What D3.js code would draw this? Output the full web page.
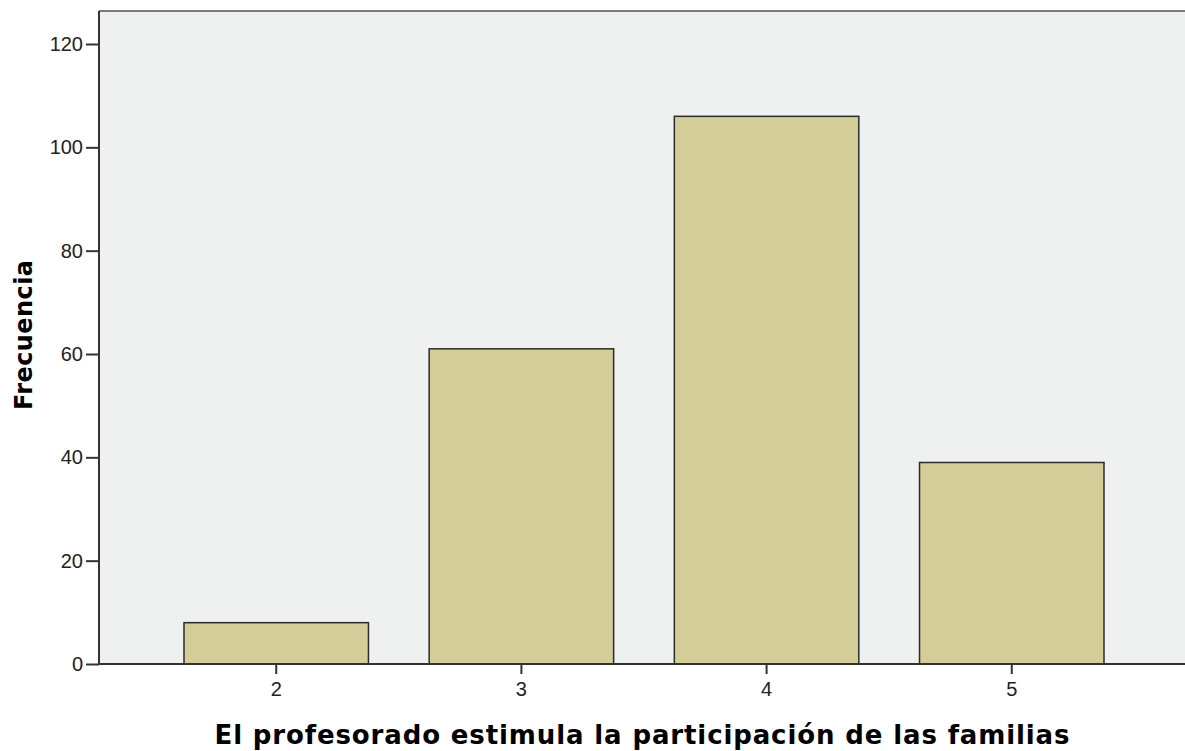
<!DOCTYPE html>
<html><head><meta charset="utf-8">
<script src="https://cdnjs.cloudflare.com/ajax/libs/d3/7.8.5/d3.min.js"></script>
<style>html,body{margin:0;padding:0;background:#fff;}</style>
</head><body>
<script>
const categories = ["2", "3", "4", "5"];
const values = [8, 61, 106, 39];
const yTicks = [0, 20, 40, 60, 80, 100, 120];
const xTitle = "El profesorado estimula la participación de las familias";
const yTitle = "Frecuencia";

const W = 1185, H = 751;
const m = {left: 99, top: 11, right: 0, bottom: 87};
const svg = d3.select("body").append("svg").attr("width", W).attr("height", H);

const x = d3.scaleBand().domain(categories).range([m.left, W - m.right])
  .paddingInner(0.2476).paddingOuter(0.3385).align(0.512);
const y = d3.scaleLinear().domain([0, 120]).range([664, 44]);

svg.append("rect").attr("x", m.left).attr("y", m.top).attr("width", W - m.left).attr("height", 664 - m.top)
  .attr("fill", "#eff0f0");
svg.append("line").attr("x1", m.left).attr("x2", W).attr("y1", m.top).attr("y2", m.top)
  .attr("stroke", "#7a7a7a").attr("stroke-width", 2);

svg.selectAll("rect.bar").data(values).enter().append("rect").attr("class", "bar")
  .attr("x", (d, i) => x(categories[i]))
  .attr("width", x.bandwidth())
  .attr("y", d => y(d))
  .attr("height", d => y(0) - y(d))
  .attr("fill", "#d3ce97").attr("stroke", "#2b2b2b").attr("stroke-width", 1.5);

const yAxis = svg.append("g").attr("transform", `translate(${m.left},0)`)
  .call(d3.axisLeft(y).tickValues(yTicks).tickSize(13).tickPadding(3).tickSizeOuter(0));
const xAxis = svg.append("g").attr("transform", `translate(0,664)`)
  .call(d3.axisBottom(x).tickSize(10).tickPadding(8).tickSizeOuter(0));

[yAxis, xAxis].forEach(g => {
  g.select(".domain").attr("stroke", "#333").attr("stroke-width", 2);
  g.selectAll(".tick line").attr("stroke", "#333").attr("stroke-width", 2);
  g.selectAll(".tick text").attr("fill", "#222").style("font-family", "'Liberation Sans', Arial, sans-serif").style("font-size", "20px");
});
yAxis.select(".domain").attr("d", `M0,${m.top}V664`);
xAxis.select(".domain").attr("d", `M${m.left},0H${W}`);

svg.append("text").attr("x", 642).attr("y", 744).attr("text-anchor", "middle")
  .attr("textLength", 855).attr("lengthAdjust", "spacing")
  .style("font-family", "'DejaVu Sans', Verdana, sans-serif").style("font-weight", "bold").style("font-size", "26px")
  .attr("fill", "#000").text(xTitle);
svg.append("text").attr("transform", "translate(32,335) rotate(-90)").attr("text-anchor", "middle")
  .attr("textLength", 150).attr("lengthAdjust", "spacing")
  .style("font-family", "'DejaVu Sans', Verdana, sans-serif").style("font-weight", "bold").style("font-size", "24px")
  .attr("fill", "#000").text(yTitle);
</script>
</body></html>
